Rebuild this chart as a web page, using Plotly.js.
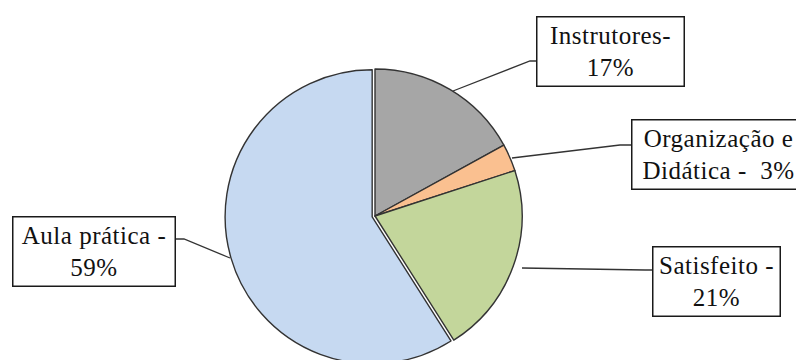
<!DOCTYPE html>
<html>
<head>
<meta charset="utf-8">
<script src="https://cdn.plot.ly/plotly-3.0.1.min.js"></script>
<style>
  body { margin: 0; overflow: hidden; }
</style>
</head>
<body>
<div id="chart"></div>
<script>
// ---- data ----
var categories = ['Instrutores', 'Organização e Didática', 'Satisfeito', 'Aula prática'];
var values = [17, 3, 21, 59];
var colors = ['#a6a6a6', '#fac090', '#c3d69b', '#c6d9f1'];
var pulls = [0, 0, 0, 0.02];
// label text: part before the value (with line break) for each category
var labelPrefix = ['Instrutores-<br>', 'Organização e<br>Didática -\u00a0 ', 'Satisfeito -<br>', 'Aula prática -<br>'];

// ---- layout helpers (pixel -> paper) ----
var W = 796, H = 370;
function px(x) { return x / W; }
function py(y) { return 1 - y / H; }

// label boxes: [centerX, centerY, width, height] in pixels
var boxes = [
  [610, 51, 146, 68],
  [718, 155, 172, 68],
  [716, 281, 126, 68],
  [94, 251.5, 161, 68]
];
// leader lines in pixels
var leaders = [
  [[453, 91], [530, 61], [537, 61]],
  [[512, 158], [620, 145], [632, 145]],
  [[522, 268], [645, 270], [653, 270]],
  [[230, 258], [184, 239], [175, 239]]
];

var FONT = 'Liberation Serif';

var annotations = categories.map(function (c, i) {
  var b = boxes[i];
  return {
    xref: 'paper', yref: 'paper',
    x: px(b[0]), y: py(b[1]),
    xanchor: 'center', yanchor: 'middle',
    width: b[2], height: b[3],
    text: labelPrefix[i] + values[i] + '%',
    showarrow: false,
    align: 'center',
    bordercolor: '#1a1a1a', borderwidth: 1.5, borderpad: 0,
    bgcolor: '#ffffff',
    font: { family: FONT, size: 25, color: '#111111' }
  };
});

var shapes = leaders.map(function (pts) {
  var d = pts.map(function (p, k) { return (k === 0 ? 'M' : 'L') + px(p[0]) + ',' + py(p[1]); }).join(' ');
  return { type: 'path', xref: 'paper', yref: 'paper', path: d, line: { color: '#333333', width: 1.3 } };
});

var trace = {
  type: 'pie',
  labels: categories,
  values: values,
  sort: false,
  direction: 'clockwise',
  rotation: 0,
  pull: pulls,
  textinfo: 'none',
  marker: { colors: colors, line: { color: '#333333', width: 1.4 } },
  domain: { x: [px(225), px(525)], y: [py(366), py(66)] },
  showlegend: false
};

var layout = {
  width: W, height: H,
  margin: { l: 0, r: 0, t: 0, b: 0 },
  paper_bgcolor: '#ffffff',
  plot_bgcolor: '#ffffff',
  showlegend: false,
  font: { family: FONT },
  annotations: annotations,
  shapes: shapes
};

Plotly.newPlot('chart', [trace], layout, { displayModeBar: false, staticPlot: true }).then(function () {
  document.querySelectorAll('.annotation-text, .annotation-text tspan').forEach(function (el) {
    el.style.fontFamily = '"Liberation Serif"';
  });
  document.querySelectorAll('.annotation-text').forEach(function (el) {
    el.style.letterSpacing = '0.5px';
  });
});
</script>
</body>
</html>
